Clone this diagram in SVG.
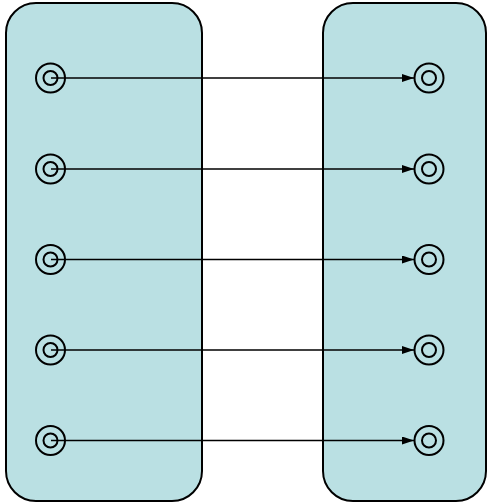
<svg xmlns="http://www.w3.org/2000/svg" width="487" height="504" viewBox="0 0 487 504">
  <style>
    .box { fill: #bae0e3; stroke: #000; stroke-width: 2; }
    .port { fill: none; stroke: #000; stroke-width: 2; }
    .link { fill: none; stroke: #000; stroke-width: 1.5; marker-end: url(#arrow); }
  </style>
  <defs>
    <marker id="arrow" viewBox="0 0 12 8" refX="12" refY="4" markerWidth="12" markerHeight="8" markerUnits="userSpaceOnUse" orient="auto">
      <path d="M0,0 L12,4 L0,8 z" fill="#000"/>
    </marker>
    <g id="portGlyph">
      <circle class="port" r="14.5"/>
      <circle class="port" r="7"/>
    </g>
  </defs>

  <g id="source">
    <rect class="box" x="6" y="3" width="196" height="498" rx="30" ry="30"/>
  </g>
  <g id="target">
    <rect class="box" x="323" y="3" width="163" height="498" rx="30" ry="30"/>
  </g>

  <g id="source-ports">
    <use href="#portGlyph" x="50.5" y="78"/>
    <use href="#portGlyph" x="50.5" y="169"/>
    <use href="#portGlyph" x="50.5" y="259.5"/>
    <use href="#portGlyph" x="50.5" y="350"/>
    <use href="#portGlyph" x="50.5" y="440.5"/>
  </g>
  <g id="target-ports">
    <use href="#portGlyph" x="429" y="78"/>
    <use href="#portGlyph" x="429" y="169"/>
    <use href="#portGlyph" x="429" y="259.5"/>
    <use href="#portGlyph" x="429" y="350"/>
    <use href="#portGlyph" x="429" y="440.5"/>
  </g>

  <g id="connectors">
    <line class="link" x1="51" y1="78" x2="414" y2="78"/>
    <line class="link" x1="51" y1="169" x2="414" y2="169"/>
    <line class="link" x1="51" y1="259.5" x2="414" y2="259.5"/>
    <line class="link" x1="51" y1="350" x2="414" y2="350"/>
    <line class="link" x1="51" y1="440.5" x2="414" y2="440.5"/>
  </g>
</svg>
